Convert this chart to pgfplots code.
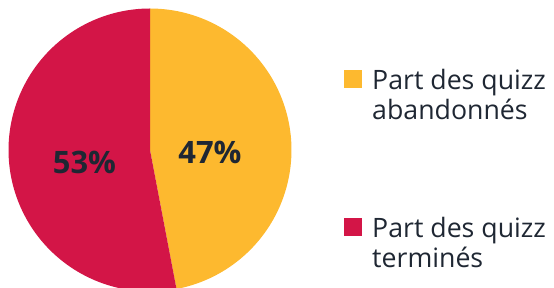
\documentclass[border=0pt]{standalone}
\usepackage{fontspec}
\setmainfont{Open Sans}
\usepackage{pgfplots}
\pgfplotsset{compat=1.18}
\definecolor{pieyellow}{HTML}{FDB92F}
\definecolor{piered}{HTML}{D31547}
\definecolor{txt}{HTML}{1F2733}
% data (percent)
\newcommand\vA{47}% Part des quizz abandonnes
\newcommand\vB{53}% Part des quizz termines
\begin{document}
\begin{tikzpicture}
\begin{axis}[
  scale only axis, width=554bp, height=288bp,
  xmin=0, xmax=554, ymin=0, ymax=288,
  axis line style={draw=none}, ticks=none,
  legend style={draw=none, fill=none, at={(0.621,0.768)}, anchor=north west,
    font=\fontsize{26.8}{30}\selectfont, text=txt, row sep=93bp, column sep=8bp,
    inner sep=0pt, cells={align=left}},
  legend cell align=left,
  legend image code/.code={\fill[#1] (0bp,7bp) rectangle (18bp,25bp);},
]
\addplot[fill=pieyellow, draw=none, domain={90-3.6*\vA}:90, samples=120, variable=\t]
  ({150+141.5*cos(t)},{138+141.5*sin(t)}) -- (axis cs:150,138) -- cycle;
\addlegendentry{Part des quizz\\abandonnés}
\addplot[fill=piered, draw=none, domain={90-3.6*(\vA+\vB)}:{90-3.6*\vA}, samples=120, variable=\t]
  ({150+141.5*cos(t)},{138+141.5*sin(t)}) -- (axis cs:150,138) -- cycle;
\addlegendentry{Part des quizz\\terminés}
\node[anchor=base, font=\bfseries\fontsize{31}{31}\selectfont, text=txt] at (axis cs:210,124) {\vA\%};
\node[anchor=base, font=\bfseries\fontsize{31}{31}\selectfont, text=txt] at (axis cs:84.5,114) {\vB\%};
\end{axis}
\end{tikzpicture}
\end{document}
